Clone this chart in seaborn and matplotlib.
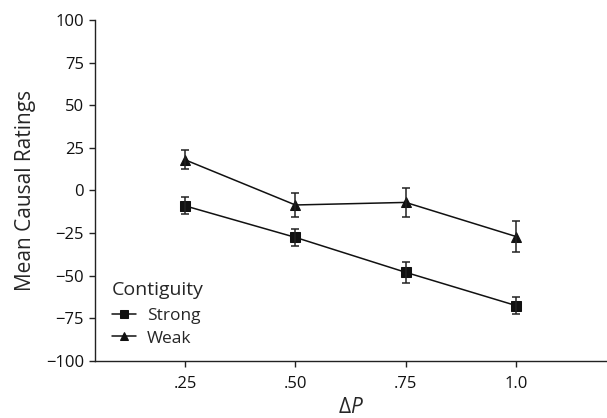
import matplotlib
matplotlib.use("Agg")
import matplotlib.pyplot as plt
import seaborn as sns
import pandas as pd

delta_p = [0.25, 0.50, 0.75, 1.0]
x_tick_labels = [".25", ".50", ".75", "1.0"]
strong_mean = [-9, -27.5, -48, -67.5]
strong_err = [5, 5, 6, 5]
weak_mean = [18, -8.5, -7, -27]
weak_err = [5.5, 7, 8.5, 9]
conditions = ["Strong", "Weak"]

sns.set_theme(style="ticks")
plt.rcParams["font.family"] = ["Open Sans", "DejaVu Sans"]
plt.rcParams["mathtext.fontset"] = "custom"
plt.rcParams["mathtext.rm"] = "Open Sans"
plt.rcParams["mathtext.it"] = "Open Sans:italic"

df = pd.DataFrame({
    "dp": delta_p * 2,
    "rating": strong_mean + weak_mean,
    "err": strong_err + weak_err,
    "Contiguity": [conditions[0]] * 4 + [conditions[1]] * 4,
})

fig = plt.figure(figsize=(6.07, 4.18), dpi=100)
ax = fig.add_axes([0.1565, 0.1364, 0.842, 0.8158])

sns.lineplot(data=df, x="dp", y="rating", style="Contiguity",
             markers={"Strong": "s", "Weak": "^"},
             dashes=False, color="#111111", markersize=7, linewidth=1.1,
             markeredgecolor="#111111", ax=ax, errorbar=None)

for cond in conditions:
    sub = df[df["Contiguity"] == cond]
    ax.errorbar(sub["dp"], sub["rating"], yerr=sub["err"], fmt="none",
                ecolor="#222222", elinewidth=1.1, capsize=3, capthick=1.1)

ax.set_xlim(0.046, 1.204)
ax.set_ylim(-100, 100)
ax.set_xticks(delta_p)
ax.set_xticklabels(x_tick_labels)
ax.set_yticks(range(-100, 101, 25))
ax.set_yticklabels([str(v).replace("-", "\u2212") for v in range(-100, 101, 25)])
ax.tick_params(axis="both", labelsize=12, colors="#222222", width=1, length=4.5, labelcolor="#111111")
ax.tick_params(axis="x", pad=6)
ax.set_xlabel(r"$\mathrm{\Delta}\mathit{P}$", fontsize=15, labelpad=4)
ax.set_ylabel("Mean Causal Ratings", fontsize=15, labelpad=7)
sns.despine(ax=ax)
for s in ["left", "bottom"]:
    ax.spines[s].set_linewidth(1.0)
    ax.spines[s].set_color("#222222")

leg = ax.legend(title="Contiguity", loc="lower left", frameon=False,
                fontsize=12.5, title_fontsize=14, handlelength=1.4,
                handletextpad=0.6, borderaxespad=0.0, labelspacing=0.35,
                markerscale=0.85, bbox_to_anchor=(0.02, 0.022))
leg._legend_box.align = "left"
leg._legend_box.sep = 6.8

fig.savefig("out.png", dpi=100)
